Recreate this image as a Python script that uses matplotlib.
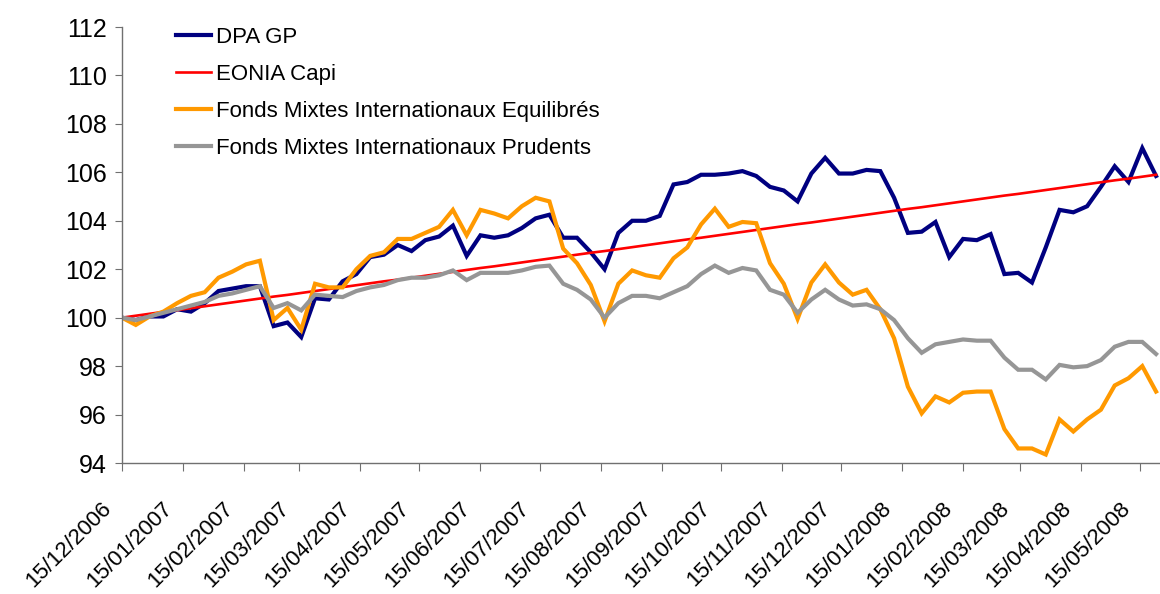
import matplotlib
matplotlib.use("Agg")
import matplotlib.pyplot as plt
import matplotlib.dates as mdates
import matplotlib.transforms as mtransforms
import pandas as pd
import numpy as np

plt.rcParams['font.family'] = ['Liberation Sans', 'DejaVu Sans']

start_date = "2006-12-15"
n_weeks = 76
dates = pd.date_range(start_date, periods=n_weeks, freq="7D")

dpa_gp = [100.0, 99.9, 100.05, 100.05, 100.35, 100.25, 100.6, 101.1, 101.2, 101.3,
          101.3, 99.65, 99.8, 99.2, 100.8, 100.75, 101.5, 101.8, 102.5, 102.6,
          103.0, 102.75, 103.2, 103.35, 103.8, 102.55, 103.4, 103.3, 103.4, 103.7,
          104.1, 104.25, 103.3, 103.3, 102.7, 102.0, 103.5, 104.0, 104.0, 104.2,
          105.5, 105.6, 105.9, 105.9, 105.95, 106.05, 105.85, 105.4, 105.25, 104.8,
          105.95, 106.6, 105.95, 105.95, 106.1, 106.05, 104.95, 103.5, 103.55, 103.95,
          102.5, 103.25, 103.2, 103.45, 101.8, 101.85, 101.45, 102.9, 104.45, 104.35,
          104.6, 105.4, 106.25, 105.6, 107.0, 105.85]

eonia_capi = [100.00, 100.08, 100.16, 100.24, 100.31, 100.39, 100.47, 100.55, 100.63, 100.71,
              100.79, 100.87, 100.94, 101.02, 101.10, 101.18, 101.26, 101.34, 101.42, 101.50,
              101.57, 101.65, 101.73, 101.81, 101.89, 101.97, 102.05, 102.12, 102.20, 102.28,
              102.36, 102.44, 102.52, 102.60, 102.68, 102.75, 102.83, 102.91, 102.99, 103.07,
              103.15, 103.23, 103.30, 103.38, 103.46, 103.54, 103.62, 103.70, 103.78, 103.86,
              103.93, 104.01, 104.09, 104.17, 104.25, 104.33, 104.41, 104.49, 104.56, 104.64,
              104.72, 104.80, 104.88, 104.96, 105.04, 105.11, 105.19, 105.27, 105.35, 105.43,
              105.51, 105.59, 105.67, 105.74, 105.82, 105.90]

equilibres = [100.0, 99.7, 100.05, 100.25, 100.6, 100.9, 101.05, 101.65, 101.9, 102.2,
              102.35, 99.9, 100.4, 99.5, 101.4, 101.25, 101.25, 102.0, 102.55, 102.7,
              103.25, 103.25, 103.5, 103.75, 104.45, 103.4, 104.45, 104.3, 104.1, 104.6,
              104.95, 104.8, 102.85, 102.25, 101.35, 99.85, 101.4, 101.95, 101.75, 101.65,
              102.45, 102.9, 103.85, 104.5, 103.75, 103.95, 103.9, 102.25, 101.4, 99.95,
              101.45, 102.2, 101.45, 100.95, 101.15, 100.35, 99.15, 97.15, 96.05, 96.75,
              96.5, 96.9, 96.95, 96.95, 95.4, 94.6, 94.6, 94.35, 95.8, 95.3,
              95.8, 96.2, 97.2, 97.5, 98.0, 96.95]

prudents = [100.0, 99.9, 100.05, 100.2, 100.35, 100.5, 100.65, 100.9, 101.0, 101.15,
            101.3, 100.4, 100.6, 100.3, 100.95, 100.9, 100.85, 101.1, 101.25, 101.35,
            101.55, 101.65, 101.65, 101.75, 101.95, 101.55, 101.85, 101.85, 101.85, 101.95,
            102.1, 102.15, 101.4, 101.15, 100.75, 100.0, 100.6, 100.9, 100.9, 100.8,
            101.05, 101.3, 101.8, 102.15, 101.85, 102.05, 101.95, 101.15, 100.95, 100.2,
            100.75, 101.15, 100.75, 100.5, 100.55, 100.35, 99.9, 99.15, 98.55, 98.9,
            99.0, 99.1, 99.05, 99.05, 98.35, 97.85, 97.85, 97.45, 98.05, 97.95,
            98.0, 98.25, 98.8, 99.0, 99.0, 98.5]

series_labels = ["DPA GP", "EONIA Capi",
                 "Fonds Mixtes Internationaux Equilibrés",
                 "Fonds Mixtes Internationaux Prudents"]

y_ticks = [94, 96, 98, 100, 102, 104, 106, 108, 110, 112]

fig = plt.figure(figsize=(11.6, 5.94), dpi=100)
ax = fig.add_axes([122 / 1160, 131 / 594, 1 - 122 / 1160, (463 - 27) / 594])

ax.plot(dates, dpa_gp, color="#000080", lw=3.0, label=series_labels[0], solid_joinstyle="miter")
ax.plot(dates, eonia_capi, color="#FF0000", lw=1.9, label=series_labels[1])
ax.plot(dates, equilibres, color="#FF9900", lw=3.0, label=series_labels[2], solid_joinstyle="miter")
ax.plot(dates, prudents, color="#969696", lw=3.0, label=series_labels[3], solid_joinstyle="miter")

ax.set_ylim(94, 112)
ax.set_yticks(y_ticks)
ax.set_xlim(pd.Timestamp("2006-12-15"), pd.Timestamp("2008-05-25"))
ax.xaxis.set_major_locator(mdates.MonthLocator(bymonthday=15))
ax.xaxis.set_major_formatter(mdates.DateFormatter("%d/%m/%Y"))

for s in ["top", "right"]:
    ax.spines[s].set_visible(False)
for s in ["left", "bottom"]:
    ax.spines[s].set_color("#707070")
    ax.spines[s].set_linewidth(1.0)

ax.tick_params(axis="y", direction="out", length=5, color="#707070", labelsize=18, pad=6)
ax.tick_params(axis="x", direction="out", length=6, color="#707070", labelsize=16, pad=4)

offset = mtransforms.ScaledTranslation(-21 / 100, -21 / 100, fig.dpi_scale_trans)
for lbl in ax.get_xticklabels():
    lbl.set_rotation(45)
    lbl.set_ha("right")
    lbl.set_va("top")
    lbl.set_rotation_mode("anchor")
    lbl.set_transform(lbl.get_transform() + offset)

leg = ax.legend(loc="upper left", bbox_to_anchor=(0.033, 1.047), frameon=False,
                fontsize=16, handlelength=1.58, handletextpad=0.2, labelspacing=0.72)

fig.savefig("out.png", dpi=100)
